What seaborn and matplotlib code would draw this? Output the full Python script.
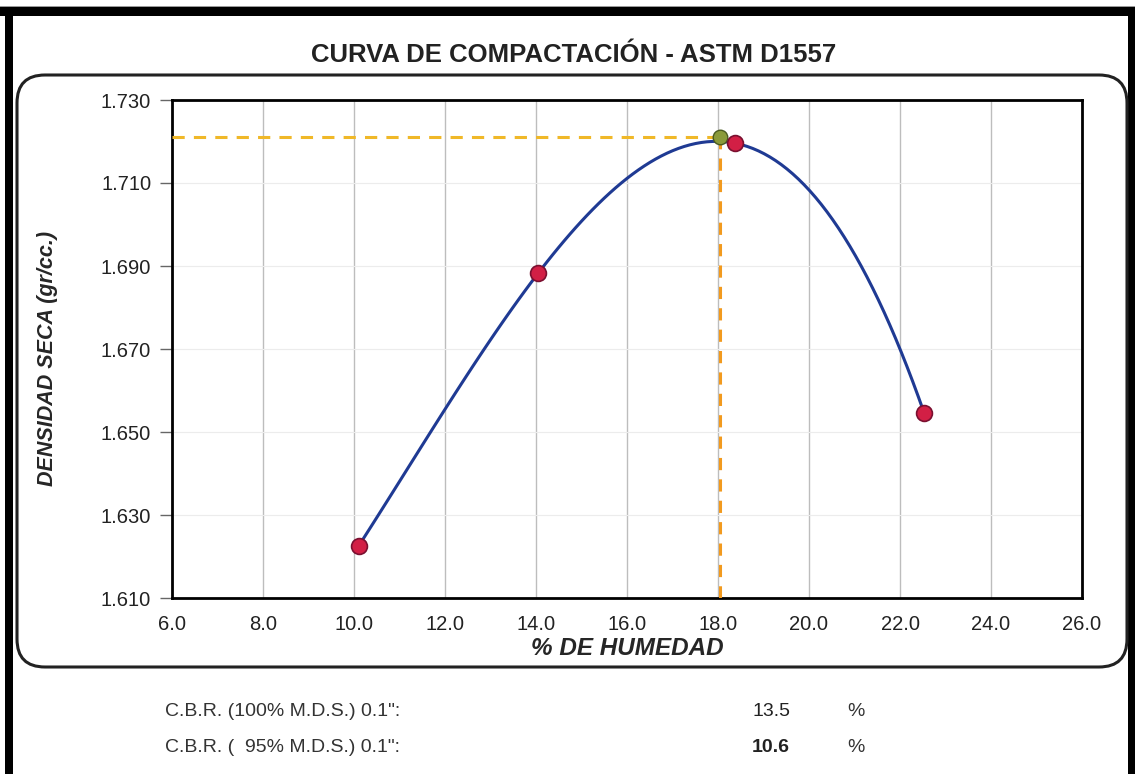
import numpy as np
import pandas as pd
import seaborn as sns
import matplotlib.pyplot as plt
from matplotlib.patches import FancyBboxPatch, Rectangle
from matplotlib.transforms import IdentityTransform

# data
humedad = [10.1, 14.05, 18.37, 22.53]
densidad = [1.6225, 1.6883, 1.7196, 1.6546]
max_humedad = 18.05
max_densidad = 1.7211
x_ticks = [6.0, 8.0, 10.0, 12.0, 14.0, 16.0, 18.0, 20.0, 22.0, 24.0, 26.0]
y_ticks = [1.610, 1.630, 1.650, 1.670, 1.690, 1.710, 1.730]
cbr_labels = ['C.B.R. (100% M.D.S.) 0.1":', 'C.B.R. (  95% M.D.S.) 0.1":']
cbr_values = ['13.5', '10.6']

df = pd.DataFrame({'humedad': humedad, 'densidad': densidad})

sns.set_style('white')
plt.rcParams['font.family'] = ['Liberation Sans', 'DejaVu Sans']

W, H = 1135, 774
fig = plt.figure(figsize=(W / 100, H / 100), dpi=100)
ax = fig.add_axes([172 / W, 1 - 598 / H, (1082 - 172) / W, (598 - 100) / H])

# outer black frame and rounded box (pixel coords)
px = IdentityTransform()
fig.add_artist(Rectangle((0, H - 7), W, 1, transform=px, color='#999999', lw=0))
fig.add_artist(Rectangle((0, H - 16), W, 9, transform=px, color='black', lw=0))
fig.add_artist(Rectangle((5, 0), 8, H - 7, transform=px, color='black', lw=0))
fig.add_artist(Rectangle((1128, 0), 7, H - 7, transform=px, color='black', lw=0))
fig.add_artist(FancyBboxPatch((17, H - 667), 1110, 592, transform=px,
                              boxstyle='round,pad=0,rounding_size=28',
                              fc='none', ec='#222222', lw=2.2))

# curve (polynomial trend through the points) and markers
sns.regplot(data=df, x='humedad', y='densidad', order=3, ci=None, scatter=False,
            truncate=True, line_kws={'color': '#1f3a93', 'lw': 2.2}, ax=ax)
sns.scatterplot(data=df, x='humedad', y='densidad', s=130, color='#d21f45',
                edgecolor='#7a1030', linewidth=1.2, zorder=5, ax=ax)
ax.scatter([max_humedad], [max_densidad], s=110, color='#8a9a3a',
           edgecolor='#4a5a20', zorder=4)

# dashed guides to the maximum
ax.plot([6.0, max_humedad], [max_densidad, max_densidad], ls=(0, (4, 3)),
        color='#f0b828', lw=2.2, zorder=3)
ax.plot([max_humedad, max_humedad], [1.610, max_densidad], ls=(0, (4, 3)),
        color='#f29a1e', lw=2.2, zorder=3)

ax.set_xlim(6.0, 26.0)
ax.set_ylim(1.610, 1.730)
ax.set_xticks(x_ticks)
ax.set_xticklabels([f'{v:.1f}' for v in x_ticks])
ax.set_yticks(y_ticks)
ax.set_yticklabels([f'{v:.3f}' for v in y_ticks])
ax.tick_params(axis='both', labelsize=14.5, colors='#222222')
ax.tick_params(axis='y', left=True, length=9, width=1, color='#666666', pad=6)
ax.tick_params(axis='x', bottom=False, pad=9)
ax.grid(axis='x', color='#bdbdbd', lw=1.0)
ax.grid(axis='y', color='#ececec', lw=0.8)
for s in ax.spines.values():
    s.set_color('black')
    s.set_linewidth(2)

ax.set_xlabel('% DE HUMEDAD', fontsize=17.5, fontweight='bold', style='italic', labelpad=2)
ax.set_ylabel('DENSIDAD SECA (gr/cc.)', fontsize=15.5, fontweight='bold', style='italic')
ax.yaxis.set_label_coords(-0.125, 0.48)

fig.text(574 / W, 1 - 55 / H, 'CURVA DE COMPACTACIÓN - ASTM D1557', ha='center', va='center',
         fontsize=18.5, fontweight='bold', color='#222222')

for i, (lab, val) in enumerate(zip(cbr_labels, cbr_values)):
    yy = 1 - (712 + 36 * i) / H
    fig.text(165 / W, yy, lab, ha='left', va='center', fontsize=14, color='#333333')
    fig.text(790 / W, yy, val, ha='right', va='center', fontsize=14, color='#222222',
             fontweight='bold' if i == 1 else 'normal')
    fig.text(847 / W, yy, '%', ha='left', va='center', fontsize=14, color='#333333')

fig.savefig('out.png', dpi=100)
